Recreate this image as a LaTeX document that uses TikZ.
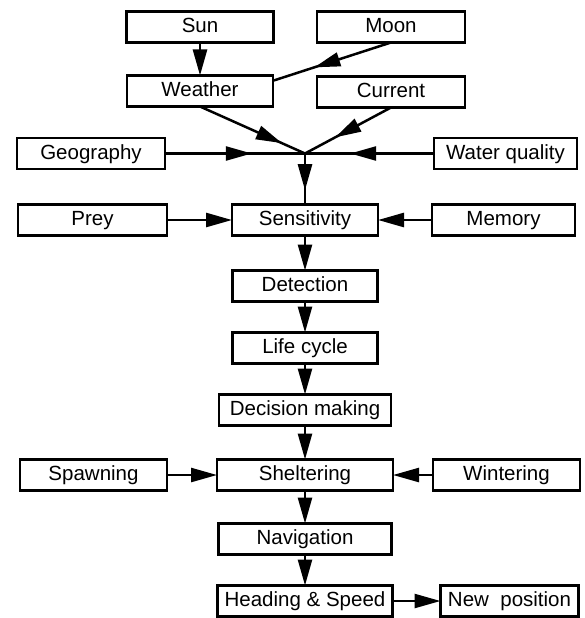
\documentclass[tikz,border=0pt]{standalone}
\usepackage{fontspec}
\setmainfont{Liberation Sans}
\usetikzlibrary{arrows.meta, positioning, decorations.markings}
\tikzset{
    % Boxes
    box/.style = {
        draw=black, line width=2.4pt, rectangle, inner sep=0pt, outer sep=0pt,
        minimum height=31pt, text height=15pt, text depth=4pt,
        text centered, font=\fontsize{20.5pt}{24pt}\selectfont
    },
    % Edges
    link/.style = {line width=2.5pt},
    arrow/.style = {link, -{Triangle[length=26pt, width=14pt]}},
    midarrow/.style = {
        postaction={decorate},
        decoration={markings, mark=at position #1 with {\arrow{Triangle[length=26pt, width=14pt]}}}
    }
}
\begin{document}
\begin{tikzpicture}
    \path[use as bounding box] (0,-618pt) rectangle (584pt,0);

    % Main column
    \node (sensitivity) [box, minimum width=146pt] at (305pt,-220pt) {Sensitivity};
    \node (detection) [box, minimum width=145pt, below=35pt of sensitivity] {Detection};
    \node (lifecycle) [box, minimum width=145pt, below=31pt of detection] {Life cycle};
    \node (decision) [box, minimum width=172pt, below=31pt of lifecycle] {Decision making};
    \node (sheltering) [box, minimum width=176pt, below=34pt of decision] {Sheltering};
    \node (navigation) [box, minimum width=173pt, below=33pt of sheltering] {Navigation};
    \node (heading) [box, minimum width=175pt, below=31pt of navigation] {Heading \& Speed};
    \node (newpos) [box, minimum width=138pt, right=48pt of heading] {New\ \ position};

    % Side inputs
    \node (prey) [box, minimum width=149pt, left=65pt of sensitivity] {Prey};
    \node (memory) [box, minimum width=143pt, right=54pt of sensitivity] {Memory};
    \node (spawning) [box, minimum width=147pt, left=50pt of sheltering] {Spawning};
    \node (wintering) [box, minimum width=147pt, right=40pt of sheltering] {Wintering};

    % Environment (top)
    \coordinate[above=51pt of sensitivity] (jn);
    \node (geography) [box, minimum width=148pt, left=140pt of jn] {Geography};
    \node (waterq) [box, minimum width=143pt, right=129pt of jn] {Water quality};
    \node (weather) [box, minimum width=146pt, above left=47pt and 32pt of jn] {Weather};
    \node (current) [box, minimum width=148pt, above right=46pt and 12pt of jn] {Current};
    \node (sun) [box, minimum width=147pt, above=33pt of weather] {Sun};
    \node (moon) [box, minimum width=148pt, above=34pt of current] {Moon};

    % --- Connections ---
    \draw [arrow] (sun) -- (weather);
    \draw [link, midarrow=0.65] (moon.south) -- (weather.8);
    \draw [link, midarrow=0.78] (weather.south) -- (jn);
    \draw [link, midarrow=0.65] (current.south) -- (jn);
    \draw [link, midarrow=0.62] (geography) -- (jn);
    \draw [link, midarrow=0.65] (waterq) -- (jn);
    \draw [link, midarrow=0.72] (jn) -- (sensitivity);

    \draw [arrow] (prey) -- (sensitivity);
    \draw [arrow] (memory) -- (sensitivity);
    \draw [arrow] (sensitivity) -- (detection);
    \draw [arrow] (detection) -- (lifecycle);
    \draw [arrow] (lifecycle) -- (decision);
    \draw [arrow] (decision) -- (sheltering);
    \draw [arrow] (spawning) -- (sheltering);
    \draw [arrow] (wintering) -- (sheltering);
    \draw [arrow] (sheltering) -- (navigation);
    \draw [arrow] (navigation) -- (heading);
    \draw [arrow] (heading) -- (newpos);

\end{tikzpicture}
\end{document}
